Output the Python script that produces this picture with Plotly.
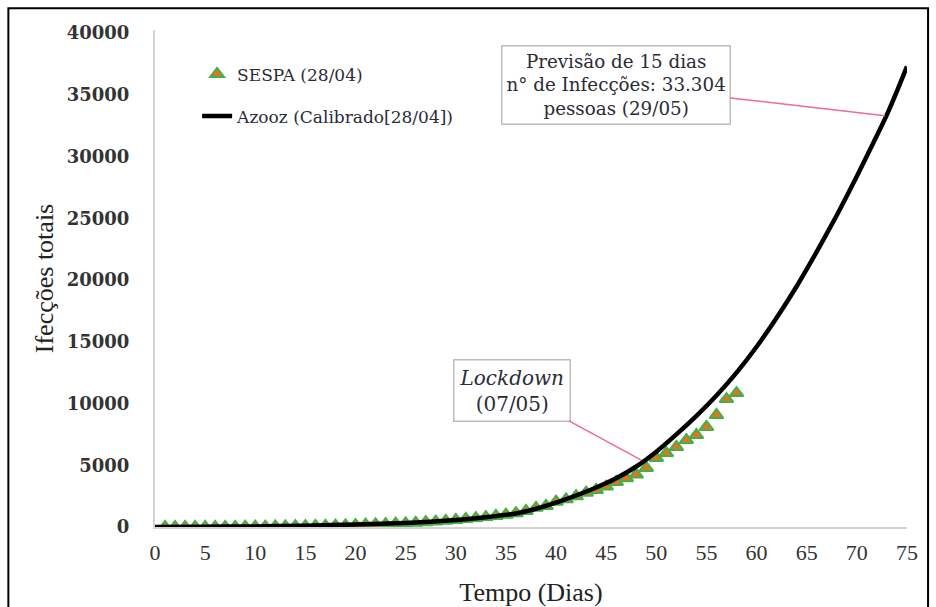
import plotly.graph_objects as go

# SESPA observed cumulative infections (days 1..58)
sespa_days = list(range(1, 59))
sespa_values = [1, 2, 4, 5, 7, 10, 13, 16, 20, 26,
                33, 40, 50, 60, 72, 85, 100, 120, 140, 160,
                185, 210, 240, 270, 300, 340, 390, 440, 500, 570,
                650, 720, 800, 900, 1000, 1120, 1300, 1550, 1700, 2050,
                2240, 2500, 2780, 3000, 3270, 3650, 3950, 4250, 4780, 5590,
                5990, 6480, 7040, 7450, 8100, 9070, 10360, 10850]

# Azooz model (calibrated 28/04)
model_days = [0, 5, 10, 15, 20, 25, 30, 32, 34, 36, 38, 40, 42, 44, 46, 48, 50,
              52, 54, 56, 58, 60, 62, 64, 66, 68, 70, 72, 73, 74, 75]
model_values = [0, 15, 50, 110, 200, 330, 560, 700, 880, 1100, 1480, 1980, 2550, 3200,
                3950, 4900, 6100, 7500, 9000, 10650, 12500, 14600, 16950, 19500,
                22300, 25250, 28400, 31700, 33400, 35300, 37300]

x_ticks = list(range(0, 80, 5))
y_ticks = list(range(0, 45000, 5000))

serif = "Liberation Serif"
wide = "DejaVu Serif"
txt = "#2b2b38"

fig = go.Figure()
fig.add_trace(go.Scatter(
    x=sespa_days, y=sespa_values, mode="markers", name="SESPA (28/04)",
    legendgroup="a",
    marker=dict(symbol="triangle-up", size=12, color="#E2741E",
                line=dict(color="#43B04C", width=2)),
))
fig.add_trace(go.Scatter(
    x=model_days, y=model_values, mode="lines", name="Azooz (Calibrado[28/04])",
    legendgroup="b",
    line=dict(color="black", width=4.5, shape="spline", smoothing=0.6),
))

fig.update_layout(
    width=936, height=607,
    margin=dict(l=155, r=29, t=30, b=80),
    paper_bgcolor="white", plot_bgcolor="white",
    showlegend=True,
    legend=dict(x=0.056, y=0.947, xanchor="left", yanchor="top",
                bgcolor="rgba(0,0,0,0)", traceorder="grouped", tracegroupgap=17,
                font=dict(family=wide, size=17, color=txt)),
    xaxis=dict(range=[0, 75], tickvals=x_ticks, showgrid=False, zeroline=False,
               automargin=False,
               showline=True, linecolor="#D4D4D4", linewidth=2,
               ticks="outside", ticklen=5, tickcolor="rgba(0,0,0,0)",
               tickfont=dict(family=serif, size=22, color="#333"),
               title=dict(text="Tempo (Dias)", font=dict(family=serif, size=26, color="#222"),
                          standoff=18)),
    yaxis=dict(range=[0, 40250], tickvals=y_ticks, tickformat="d",
               showgrid=False, zeroline=False, automargin=False,
               showline=True, linecolor="#D4D4D4", linewidth=2,
               ticks="outside", ticklen=20, tickcolor="rgba(0,0,0,0)",
               tickfont=dict(family=wide, size=18, color="#333", weight="bold"),
               title=dict(text="Ifecções totais", font=dict(family=serif, size=26, color="#222"),
                          standoff=6)),
)

fig.add_annotation(
    x=72.8, y=33304, xref="x", yref="y",
    text="Previsão de 15 dias<br>n° de Infecções: 33.304<br>pessoas (29/05)",
    showarrow=True, arrowhead=0, arrowwidth=1.5, arrowcolor="#EE6A99",
    ax=-269, ay=-31,
    font=dict(family=wide, size=18.3, color=txt),
    bgcolor="white", bordercolor="#BDBDBD", borderwidth=1.5, borderpad=4,
)
fig.add_annotation(
    x=48.5, y=5420, xref="x", yref="y",
    text="<i>Lockdown</i><br>(07/05)",
    showarrow=True, arrowhead=0, arrowwidth=1.5, arrowcolor="#EE6A99",
    ax=-129, ay=-70,
    font=dict(family=wide, size=20, color=txt),
    bgcolor="white", bordercolor="#BDBDBD", borderwidth=1.5, borderpad=5,
)

fig.add_shape(type="rect", xref="paper", yref="paper",
              x0=-0.195, x1=1.028, y0=-0.175, y1=1.044,
              line=dict(color="black", width=2), fillcolor="rgba(0,0,0,0)", layer="below")

fig.write_html("out.html")
